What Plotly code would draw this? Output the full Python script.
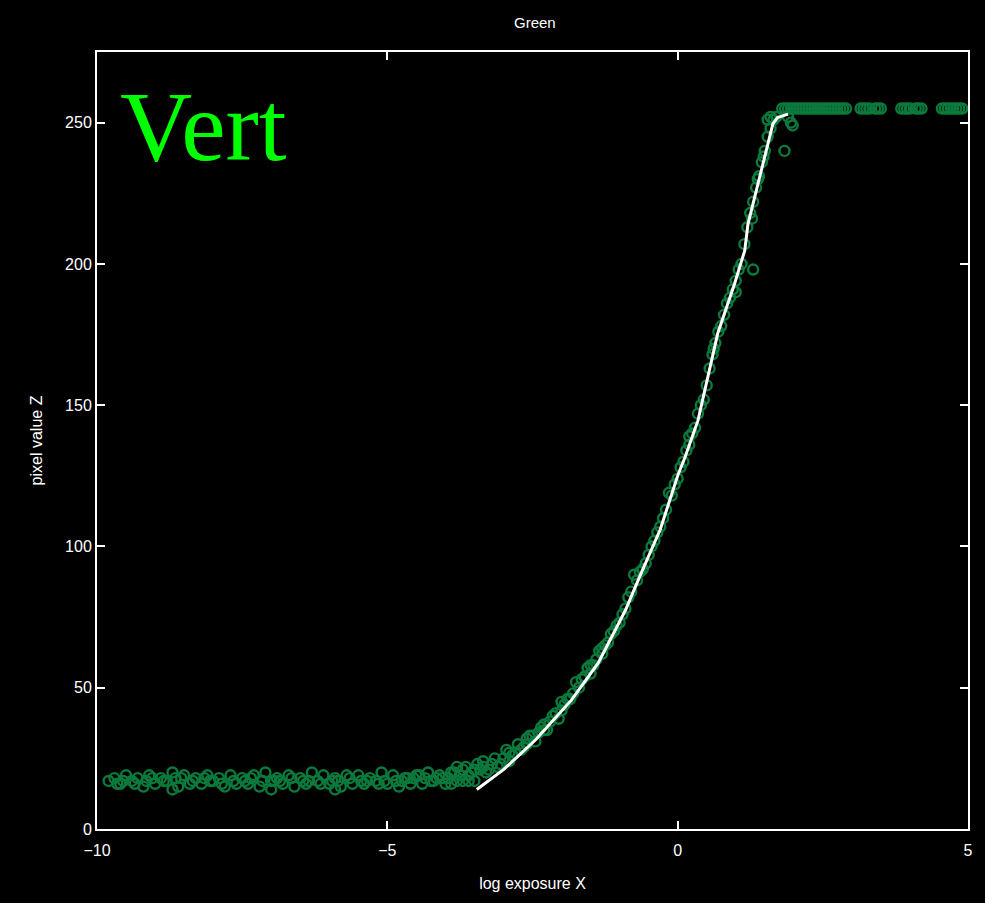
import plotly.graph_objects as go

# Response curve (log exposure X, pixel value Z)
curve_x = [-3.46, -3.0, -2.45, -1.83, -1.37, -0.9, -0.63, -0.3, 0.0, 0.125, 0.35,
           0.69, 0.98, 1.155, 1.21, 1.43, 1.64, 1.72, 1.9]
curve_z = [14, 21, 31.5, 45.6, 58.7, 77.4, 90.5, 106, 125, 131.5, 144.6,
           175.4, 193, 204.7, 214, 232, 249.6, 251.8, 253]

# Sample points: flat (dark) region
flat_x = [-9.8, -9.6, -9.4, -9.2, -9.0, -8.8, -8.6, -8.4, -8.2, -8.0, -7.8, -7.6, -7.4, -7.2,
          -7.0, -6.8, -6.6, -6.4, -6.2, -6.0, -5.8, -5.6, -5.4, -5.2, -5.0, -4.8, -4.6, -4.4,
          -4.2, -4.0, -3.8, -3.6,
          -9.7, -9.5, -9.3, -9.1, -8.9, -8.7, -8.5, -8.3, -8.1, -7.9, -7.7, -7.5, -7.3, -7.1,
          -6.9, -6.7, -6.5, -6.3, -6.1, -5.9, -5.7, -5.5, -5.3, -5.1, -4.9, -4.7, -4.5, -4.3,
          -4.1, -3.9, -3.7, -3.5,
          -9.65, -9.15, -8.55, -8.05, -7.45, -6.95, -6.45, -5.95, -5.45, -5.05, -4.75, -4.55,
          -4.35, -4.15, -3.95, -3.85, -3.75, -3.65, -3.55, -3.45, -3.35,
          -8.7, -7.0, -5.9,
          -9.55, -9.35, -9.05, -8.85, -8.65, -8.35, -8.15, -7.85, -7.65, -7.35, -7.15, -6.85,
          -6.65, -6.35, -6.15, -5.85, -5.65, -5.35, -5.15, -4.85, -4.65, -4.45, -4.25, -4.05,
          -3.9, -3.8, -3.7, -3.6, -3.5, -3.4]
flat_z = [17, 16, 17, 15, 16, 17, 15, 16, 16, 17, 15, 16, 16, 15,
          17, 16, 15, 16, 17, 16, 15, 16, 16, 17, 16, 15, 16, 16,
          17, 16, 17, 17,
          18, 19, 18, 19, 18, 20, 19, 18, 19, 18, 19, 18, 19, 20,
          18, 19, 18, 20, 19, 18, 19, 19, 18, 20, 19, 18, 19, 20,
          19, 20, 21, 21,
          16, 17, 18, 17, 17, 17, 17, 17, 17, 17, 17, 18,
          18, 18, 18, 20, 19, 22, 20, 23, 22,
          14, 14, 14,
          17, 16, 18, 17, 18, 17, 18, 16, 17, 18, 17, 17,
          18, 17, 16, 17, 18, 17, 16, 17, 18, 19, 17, 18,
          16, 22, 17, 19, 17, 21]

# Sample points: along the response curve
rise_x = [-3.3, -3.2, -3.1, -3.0, -2.9, -2.8, -2.7, -2.6, -2.5, -2.4, -2.3, -2.2, -2.1, -2.0,
          -1.9, -1.8, -1.7, -1.6, -1.5, -1.4, -1.3, -1.2, -1.1, -1.0, -0.9, -0.8, -0.7, -0.6,
          -0.5, -0.4, -0.3, -0.2, -0.1, 0.0, 0.1, 0.2, 0.3, 0.4, 0.5, 0.55, 0.6, 0.7, 0.8,
          0.9, 1.0, 1.05, 1.15, 1.2, 1.3, 1.35, 1.4, 1.5, 1.55, 1.6, 1.65,
          -2.9, -2.6, -2.3, -2.0, -1.75, -1.5, -1.3, -0.75, -0.55, -0.15, 0.2, 0.45, 0.62,
          0.75, 1.0, 1.3, 1.28, 1.45, 1.55, 1.84, 1.98, 1.9, 1.95,
          -3.35, -3.25, -3.15, -3.05, -2.95, -2.85, -2.75, -2.65, -2.55, -2.45, -2.35, -2.25,
          -2.15, -2.05, -1.95, -1.85, -1.65, -1.55, -1.45, -1.35, -1.25, -1.15, -1.05, -0.95,
          -0.85, -0.65, -0.45, -0.35, -0.25, -0.05, 0.05, 0.15, 0.25, 0.35, 0.65, 0.85, 0.95,
          1.1, 1.25, 1.38, 1.48, 1.6, 1.7]
rise_z = [20, 23, 22, 25, 24, 27, 28, 30, 33, 34, 37, 38, 41, 42,
          46, 48, 50, 54, 55, 60, 62, 66, 70, 73, 78, 84, 88, 92,
          97, 102, 107, 113, 118, 124, 130, 136, 142, 150, 157, 163, 168, 176, 182,
          188, 194, 198, 207, 213, 222, 227, 231, 240, 245, 248, 251,
          27, 32, 35, 45, 52, 58, 64, 90, 94, 119, 139, 152, 170,
          178, 190, 198, 216, 236, 251, 240, 249, 252, 250,
          24, 21, 25, 23, 28, 26, 30, 29, 33, 31, 36, 35,
          40, 39, 44, 46, 53, 57, 58, 63, 65, 69, 72, 76,
          82, 91, 100, 105, 110, 122, 128, 134, 140, 147, 172, 186, 191,
          200, 218, 230, 238, 252, 252]

# Sample points: saturated
sat_x = [1.8, 1.9, 2.0, 2.1, 2.2, 2.3, 2.4, 2.5, 2.6, 2.7, 2.8, 2.9,
         3.15, 3.3, 3.5, 3.85, 4.0, 4.2, 4.55, 4.7, 4.85,
         1.85, 1.95, 2.05, 2.15, 2.25, 2.35, 2.45, 2.55, 2.65, 2.75, 2.85,
         3.2, 3.25, 3.4, 3.45, 3.9, 3.95, 4.1, 4.15, 4.6, 4.65, 4.75, 4.8, 4.9]
sat_z = [255] * len(sat_x)

pts_x = flat_x + rise_x + sat_x
pts_z = flat_z + rise_z + sat_z

GREEN = "#0b7a3c"

fig = go.Figure()
fig.add_trace(go.Scatter(
    x=pts_x, y=pts_z, mode="markers",
    marker=dict(symbol="circle-open", size=10, color=GREEN, line=dict(width=2.4, color=GREEN)),
    showlegend=False, hoverinfo="skip"))
fig.add_trace(go.Scatter(
    x=curve_x, y=curve_z, mode="lines",
    line=dict(color="white", width=3), showlegend=False, hoverinfo="skip"))

axis_common = dict(
    showline=True, linecolor="white", linewidth=2, mirror="ticks",
    ticks="inside", ticklen=8, tickcolor="white", tickwidth=2,
    showgrid=False, zeroline=False,
    tickfont=dict(family="Liberation Sans, Arial", size=16, color="white"),
)

fig.update_layout(
    width=985, height=903,
    paper_bgcolor="black", plot_bgcolor="black",
    margin=dict(l=97, r=14, t=52, b=74),
    title=dict(text="Green", x=0.543, xanchor="center", y=0.975, yanchor="middle",
               font=dict(family="Liberation Sans, Arial", size=15, color="white")),
    xaxis=dict(range=[-10, 5], tickvals=[-10, -5, 0, 5],
               ticktext=["\u221210", "\u22125", "0", "5"], ticklabelstandoff=6,
               title=dict(text="log exposure X", standoff=20,
                          font=dict(family="Liberation Sans, Arial", size=16, color="white")),
               **axis_common),
    yaxis=dict(range=[0, 275], tickvals=[0, 50, 100, 150, 200, 250],
               title=dict(text="pixel value Z", standoff=18,
                          font=dict(family="Liberation Sans, Arial", size=16, color="white")),
               **axis_common),
    annotations=[dict(
        text="Vert", xref="paper", yref="paper", x=0.024, y=0.978,
        xanchor="left", yanchor="top", showarrow=False,
        font=dict(family="Liberation Serif, Times New Roman", size=100, color="#00ff00"))],
)

fig.write_html("out.html")
